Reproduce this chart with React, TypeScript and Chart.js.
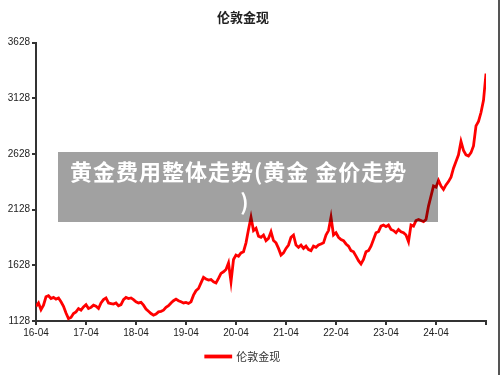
import React, { useEffect, useRef } from "react";
import { Chart, registerables } from "chart.js";

Chart.register(...registerables);

const chartTitle = "伦敦金现";
const seriesName = "伦敦金现";
const bannerLines = ["黄金费用整体走势(黄金 金价走势", ")"];
const xTickLabels = ["16-04", "17-04", "18-04", "19-04", "20-04", "21-04", "22-04", "23-04", "24-04"];
const yTicks = [1128, 1628, 2128, 2628, 3128, 3628];
const pointsPerYear = 20;

// price readings, 20 per year starting 2016-04
const prices2016 = [1260, 1290, 1230, 1270, 1345, 1355, 1330, 1340, 1325, 1335, 1300, 1260, 1200, 1150, 1160, 1195, 1210, 1240, 1225, 1255];
const prices2017 = [1275, 1240, 1250, 1270, 1260, 1240, 1290, 1320, 1335, 1290, 1285, 1280, 1290, 1265, 1275, 1320, 1340, 1330, 1335, 1320];
const prices2018 = [1300, 1290, 1295, 1270, 1235, 1215, 1195, 1180, 1190, 1210, 1215, 1225, 1250, 1265, 1290, 1310, 1325, 1310, 1300, 1290];
const prices2019 = [1295, 1285, 1300, 1360, 1400, 1420, 1470, 1520, 1505, 1495, 1500, 1480, 1470, 1510, 1555, 1570, 1590, 1650, 1480, 1680];
const prices2020 = [1720, 1710, 1740, 1750, 1830, 1950, 2060, 1940, 1960, 1890, 1880, 1900, 1850, 1870, 1930, 1850, 1830, 1780, 1720, 1740];
const prices2021 = [1780, 1810, 1880, 1900, 1810, 1790, 1810, 1780, 1800, 1770, 1760, 1800, 1790, 1810, 1820, 1830, 1900, 1940, 2060, 1900];
const prices2022 = [1920, 1880, 1860, 1850, 1820, 1800, 1760, 1750, 1710, 1670, 1640, 1680, 1750, 1760, 1800, 1860, 1920, 1930, 1980, 1990];
const prices2023 = [1975, 1990, 1950, 1940, 1920, 1950, 1930, 1920, 1900, 1840, 1990, 1980, 2030, 2040, 2030, 2020, 2040, 2160, 2250, 2340];
const prices2024 = [2330, 2390, 2340, 2310, 2350, 2380, 2420, 2500, 2560, 2620, 2740, 2660, 2620, 2610, 2640, 2700, 2880, 2920, 3000, 3110, 3350];

const prices = [
  ...prices2016, ...prices2017, ...prices2018, ...prices2019, ...prices2020,
  ...prices2021, ...prices2022, ...prices2023, ...prices2024,
];

export default function App() {
  const ref = useRef<HTMLCanvasElement | null>(null);

  useEffect(() => {
    if (!ref.current) return;
    const points = prices.map((v, i) => ({ x: i / pointsPerYear, y: v }));
    const tickColor = "#222";
    const lineColor = "#333";
    const chart = new Chart(ref.current, {
      type: "line",
      data: {
        datasets: [
          {
            label: seriesName,
            data: points,
            borderColor: "#ff0000",
            backgroundColor: "#ff0000",
            borderWidth: 2.8,
            pointRadius: 0,
            tension: 0,
          },
        ],
      },
      options: {
        animation: false,
        responsive: false,
        devicePixelRatio: 1,
        layout: { padding: { left: 0, right: 14, top: 0, bottom: 3 } },
        plugins: {
          title: {
            display: true,
            text: chartTitle,
            color: "#222",
            font: { size: 13, weight: "bold", family: "'Noto Sans CJK SC', sans-serif" },
            padding: { top: 9, bottom: 18 },
          },
          legend: {
            display: true,
            position: "bottom",
            labels: {
              boxWidth: 25,
              boxHeight: 1,
              padding: 6,
              color: "#333",
              font: { size: 11, family: "'Noto Sans CJK SC', sans-serif" },
            },
          },
          tooltip: { enabled: false },
        },
        scales: {
          x: {
            type: "linear",
            min: 0,
            max: 9,
            ticks: {
              stepSize: 1,
              autoSkip: false,
              maxRotation: 0,
              padding: 2,
              color: tickColor,
              font: { size: 10, family: "'Liberation Sans', Arial, sans-serif" },
              callback: (v: any) => {
                const i = Math.round(Number(v));
                return i < xTickLabels.length ? xTickLabels[i] : "";
              },
            },
            grid: { drawOnChartArea: false, drawTicks: true, tickLength: 4, color: lineColor, lineWidth: 2 },
            border: { color: lineColor, width: 2 },
            afterFit: (s: any) => {
              s.height = 24;
            },
          },
          y: {
            type: "linear",
            min: yTicks[0],
            max: yTicks[yTicks.length - 1],
            afterBuildTicks: (s: any) => {
              s.ticks = yTicks.map((v) => ({ value: v }));
            },
            ticks: {
              padding: 2,
              color: tickColor,
              font: { size: 10, family: "'Liberation Sans', Arial, sans-serif" },
              callback: (v: any) => String(v),
            },
            grid: { drawOnChartArea: false, drawTicks: true, tickLength: 4, color: lineColor, lineWidth: 2 },
            border: { color: lineColor, width: 2 },
            afterFit: (s: any) => {
              s.width = 36;
            },
          },
        },
      },
    });
    return () => chart.destroy();
  }, []);

  return (
    <div style={{ position: "fixed", left: 0, top: 0, width: 500, height: 375, background: "#fff", overflow: "hidden" }}>
      <canvas ref={ref} width={500} height={375} style={{ display: "block" }} />
      <div
        style={{
          position: "absolute",
          left: 58,
          top: 152,
          width: 380,
          height: 70,
          boxSizing: "border-box",
          padding: "3px 0 0 12px",
          background: "rgba(0,0,0,0.37)",
          color: "#fff",
          fontFamily: "'Noto Sans CJK SC', sans-serif",
          fontWeight: "bold",
          fontSize: 22,
          lineHeight: "30px",
          letterSpacing: 1,
          whiteSpace: "nowrap",
        }}
      >
        <div style={{ textAlign: "left" }}>{bannerLines[0]}</div>
        <div style={{ textAlign: "center", paddingRight: 18 }}>{bannerLines[1]}</div>
      </div>
      <div style={{ position: "absolute", left: 498, top: 0, width: 2, height: 375, background: "#555" }} />
    </div>
  );
}
